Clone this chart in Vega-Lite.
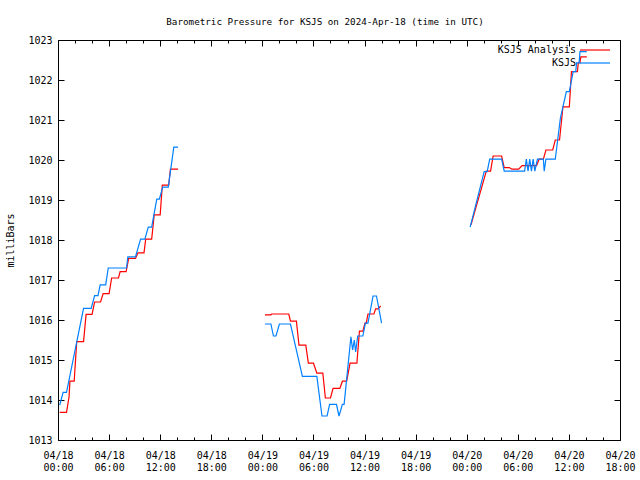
{
  "$schema": "https://vega.github.io/schema/vega-lite/v6.json",
  "width": 562,
  "height": 400,
  "autosize": "none",
  "padding": {"left": 58, "top": 40, "right": 20, "bottom": 40},
  "background": "white",
  "config": {
    "view": {"stroke": "black", "strokeWidth": 1},
    "font": "DejaVu Sans Mono"
  },
  "title": {
    "text": "Barometric Pressure for KSJS on 2024-Apr-18 (time in UTC)",
    "font": "DejaVu Sans Mono",
    "fontSize": 9.25,
    "fontWeight": "normal",
    "anchor": "middle",
    "dx": -14,
    "offset": 8,
    "color": "black"
  },
  "data": {
    "values": [
      {"t": 0.2, "p": 1013.69, "series": "KSJS Analysis", "seg": 1},
      {"t": 1.0, "p": 1013.69, "series": "KSJS Analysis", "seg": 1},
      {"t": 1.3, "p": 1014.08, "series": "KSJS Analysis", "seg": 1},
      {"t": 1.4, "p": 1014.47, "series": "KSJS Analysis", "seg": 1},
      {"t": 1.9, "p": 1014.47, "series": "KSJS Analysis", "seg": 1},
      {"t": 2.2, "p": 1015.46, "series": "KSJS Analysis", "seg": 1},
      {"t": 3.0, "p": 1015.46, "series": "KSJS Analysis", "seg": 1},
      {"t": 3.3, "p": 1016.14, "series": "KSJS Analysis", "seg": 1},
      {"t": 4.0, "p": 1016.14, "series": "KSJS Analysis", "seg": 1},
      {"t": 4.3, "p": 1016.45, "series": "KSJS Analysis", "seg": 1},
      {"t": 5.0, "p": 1016.45, "series": "KSJS Analysis", "seg": 1},
      {"t": 5.3, "p": 1016.66, "series": "KSJS Analysis", "seg": 1},
      {"t": 6.0, "p": 1016.66, "series": "KSJS Analysis", "seg": 1},
      {"t": 6.3, "p": 1017.05, "series": "KSJS Analysis", "seg": 1},
      {"t": 7.1, "p": 1017.05, "series": "KSJS Analysis", "seg": 1},
      {"t": 7.3, "p": 1017.21, "series": "KSJS Analysis", "seg": 1},
      {"t": 8.0, "p": 1017.21, "series": "KSJS Analysis", "seg": 1},
      {"t": 8.3, "p": 1017.54, "series": "KSJS Analysis", "seg": 1},
      {"t": 9.1, "p": 1017.54, "series": "KSJS Analysis", "seg": 1},
      {"t": 9.4, "p": 1017.68, "series": "KSJS Analysis", "seg": 1},
      {"t": 10.1, "p": 1017.68, "series": "KSJS Analysis", "seg": 1},
      {"t": 10.3, "p": 1018.02, "series": "KSJS Analysis", "seg": 1},
      {"t": 11.0, "p": 1018.02, "series": "KSJS Analysis", "seg": 1},
      {"t": 11.3, "p": 1018.63, "series": "KSJS Analysis", "seg": 1},
      {"t": 12.0, "p": 1018.63, "series": "KSJS Analysis", "seg": 1},
      {"t": 12.25, "p": 1019.37, "series": "KSJS Analysis", "seg": 1},
      {"t": 13.0, "p": 1019.37, "series": "KSJS Analysis", "seg": 1},
      {"t": 13.2, "p": 1019.77, "series": "KSJS Analysis", "seg": 1},
      {"t": 14.1, "p": 1019.77, "series": "KSJS Analysis", "seg": 1},

      {"t": 24.3, "p": 1016.13, "series": "KSJS Analysis", "seg": 2},
      {"t": 25.0, "p": 1016.13, "series": "KSJS Analysis", "seg": 2},
      {"t": 25.1, "p": 1016.15, "series": "KSJS Analysis", "seg": 2},
      {"t": 27.1, "p": 1016.15, "series": "KSJS Analysis", "seg": 2},
      {"t": 27.3, "p": 1015.97, "series": "KSJS Analysis", "seg": 2},
      {"t": 28.0, "p": 1015.97, "series": "KSJS Analysis", "seg": 2},
      {"t": 28.3, "p": 1015.37, "series": "KSJS Analysis", "seg": 2},
      {"t": 29.1, "p": 1015.37, "series": "KSJS Analysis", "seg": 2},
      {"t": 29.4, "p": 1014.92, "series": "KSJS Analysis", "seg": 2},
      {"t": 30.0, "p": 1014.92, "series": "KSJS Analysis", "seg": 2},
      {"t": 30.4, "p": 1014.67, "series": "KSJS Analysis", "seg": 2},
      {"t": 31.1, "p": 1014.67, "series": "KSJS Analysis", "seg": 2},
      {"t": 31.4, "p": 1014.05, "series": "KSJS Analysis", "seg": 2},
      {"t": 32.0, "p": 1014.05, "series": "KSJS Analysis", "seg": 2},
      {"t": 32.3, "p": 1014.29, "series": "KSJS Analysis", "seg": 2},
      {"t": 33.1, "p": 1014.29, "series": "KSJS Analysis", "seg": 2},
      {"t": 33.4, "p": 1014.47, "series": "KSJS Analysis", "seg": 2},
      {"t": 33.9, "p": 1014.47, "series": "KSJS Analysis", "seg": 2},
      {"t": 34.3, "p": 1014.92, "series": "KSJS Analysis", "seg": 2},
      {"t": 35.1, "p": 1014.92, "series": "KSJS Analysis", "seg": 2},
      {"t": 35.4, "p": 1015.72, "series": "KSJS Analysis", "seg": 2},
      {"t": 35.8, "p": 1015.72, "series": "KSJS Analysis", "seg": 2},
      {"t": 36.05, "p": 1015.92, "series": "KSJS Analysis", "seg": 2},
      {"t": 36.2, "p": 1015.92, "series": "KSJS Analysis", "seg": 2},
      {"t": 36.4, "p": 1016.15, "series": "KSJS Analysis", "seg": 2},
      {"t": 37.1, "p": 1016.15, "series": "KSJS Analysis", "seg": 2},
      {"t": 37.3, "p": 1016.28, "series": "KSJS Analysis", "seg": 2},
      {"t": 37.6, "p": 1016.28, "series": "KSJS Analysis", "seg": 2},
      {"t": 37.9, "p": 1016.35, "series": "KSJS Analysis", "seg": 2},

      {"t": 48.5, "p": 1018.38, "series": "KSJS Analysis", "seg": 3},
      {"t": 50.3, "p": 1019.72, "series": "KSJS Analysis", "seg": 3},
      {"t": 50.8, "p": 1019.72, "series": "KSJS Analysis", "seg": 3},
      {"t": 51.1, "p": 1020.1, "series": "KSJS Analysis", "seg": 3},
      {"t": 52.1, "p": 1020.1, "series": "KSJS Analysis", "seg": 3},
      {"t": 52.4, "p": 1019.81, "series": "KSJS Analysis", "seg": 3},
      {"t": 53.0, "p": 1019.81, "series": "KSJS Analysis", "seg": 3},
      {"t": 53.3, "p": 1019.77, "series": "KSJS Analysis", "seg": 3},
      {"t": 54.1, "p": 1019.77, "series": "KSJS Analysis", "seg": 3},
      {"t": 54.5, "p": 1019.86, "series": "KSJS Analysis", "seg": 3},
      {"t": 56.2, "p": 1019.86, "series": "KSJS Analysis", "seg": 3},
      {"t": 56.5, "p": 1020.02, "series": "KSJS Analysis", "seg": 3},
      {"t": 57.0, "p": 1020.02, "series": "KSJS Analysis", "seg": 3},
      {"t": 57.3, "p": 1020.25, "series": "KSJS Analysis", "seg": 3},
      {"t": 58.1, "p": 1020.25, "series": "KSJS Analysis", "seg": 3},
      {"t": 58.4, "p": 1020.5, "series": "KSJS Analysis", "seg": 3},
      {"t": 58.9, "p": 1020.5, "series": "KSJS Analysis", "seg": 3},
      {"t": 59.3, "p": 1021.33, "series": "KSJS Analysis", "seg": 3},
      {"t": 60.05, "p": 1021.33, "series": "KSJS Analysis", "seg": 3},
      {"t": 60.3, "p": 1022.21, "series": "KSJS Analysis", "seg": 3},
      {"t": 61.0, "p": 1022.21, "series": "KSJS Analysis", "seg": 3},
      {"t": 61.1, "p": 1022.43, "series": "KSJS Analysis", "seg": 3},
      {"t": 61.3, "p": 1022.43, "series": "KSJS Analysis", "seg": 3},
      {"t": 61.4, "p": 1022.58, "series": "KSJS Analysis", "seg": 3},
      {"t": 62.1, "p": 1022.58, "series": "KSJS Analysis", "seg": 3},

      {"t": 0.2, "p": 1013.87, "series": "KSJS", "seg": 1},
      {"t": 0.6, "p": 1014.19, "series": "KSJS", "seg": 1},
      {"t": 1.0, "p": 1014.19, "series": "KSJS", "seg": 1},
      {"t": 3.0, "p": 1016.29, "series": "KSJS", "seg": 1},
      {"t": 3.9, "p": 1016.29, "series": "KSJS", "seg": 1},
      {"t": 4.3, "p": 1016.61, "series": "KSJS", "seg": 1},
      {"t": 4.7, "p": 1016.61, "series": "KSJS", "seg": 1},
      {"t": 4.95, "p": 1016.88, "series": "KSJS", "seg": 1},
      {"t": 5.6, "p": 1016.88, "series": "KSJS", "seg": 1},
      {"t": 5.9, "p": 1017.3, "series": "KSJS", "seg": 1},
      {"t": 8.05, "p": 1017.3, "series": "KSJS", "seg": 1},
      {"t": 8.2, "p": 1017.58, "series": "KSJS", "seg": 1},
      {"t": 9.1, "p": 1017.58, "series": "KSJS", "seg": 1},
      {"t": 9.7, "p": 1018.02, "series": "KSJS", "seg": 1},
      {"t": 10.2, "p": 1018.02, "series": "KSJS", "seg": 1},
      {"t": 10.6, "p": 1018.32, "series": "KSJS", "seg": 1},
      {"t": 11.0, "p": 1018.32, "series": "KSJS", "seg": 1},
      {"t": 11.6, "p": 1019.02, "series": "KSJS", "seg": 1},
      {"t": 11.9, "p": 1019.02, "series": "KSJS", "seg": 1},
      {"t": 12.3, "p": 1019.32, "series": "KSJS", "seg": 1},
      {"t": 12.95, "p": 1019.32, "series": "KSJS", "seg": 1},
      {"t": 13.6, "p": 1020.32, "series": "KSJS", "seg": 1},
      {"t": 14.1, "p": 1020.32, "series": "KSJS", "seg": 1},

      {"t": 24.3, "p": 1015.9, "series": "KSJS", "seg": 2},
      {"t": 25.0, "p": 1015.9, "series": "KSJS", "seg": 2},
      {"t": 25.3, "p": 1015.6, "series": "KSJS", "seg": 2},
      {"t": 25.6, "p": 1015.6, "series": "KSJS", "seg": 2},
      {"t": 26.0, "p": 1015.9, "series": "KSJS", "seg": 2},
      {"t": 27.3, "p": 1015.9, "series": "KSJS", "seg": 2},
      {"t": 28.7, "p": 1014.59, "series": "KSJS", "seg": 2},
      {"t": 30.4, "p": 1014.59, "series": "KSJS", "seg": 2},
      {"t": 31.0, "p": 1013.6, "series": "KSJS", "seg": 2},
      {"t": 31.6, "p": 1013.6, "series": "KSJS", "seg": 2},
      {"t": 31.9, "p": 1013.89, "series": "KSJS", "seg": 2},
      {"t": 32.7, "p": 1013.89, "series": "KSJS", "seg": 2},
      {"t": 33.0, "p": 1013.6, "series": "KSJS", "seg": 2},
      {"t": 33.4, "p": 1013.89, "series": "KSJS", "seg": 2},
      {"t": 33.6, "p": 1013.89, "series": "KSJS", "seg": 2},
      {"t": 34.4, "p": 1015.58, "series": "KSJS", "seg": 2},
      {"t": 34.6, "p": 1015.25, "series": "KSJS", "seg": 2},
      {"t": 34.8, "p": 1015.5, "series": "KSJS", "seg": 2},
      {"t": 34.95, "p": 1015.2, "series": "KSJS", "seg": 2},
      {"t": 35.2, "p": 1015.6, "series": "KSJS", "seg": 2},
      {"t": 35.8, "p": 1015.6, "series": "KSJS", "seg": 2},
      {"t": 36.1, "p": 1015.92, "series": "KSJS", "seg": 2},
      {"t": 36.4, "p": 1015.92, "series": "KSJS", "seg": 2},
      {"t": 37.0, "p": 1016.6, "series": "KSJS", "seg": 2},
      {"t": 37.4, "p": 1016.6, "series": "KSJS", "seg": 2},
      {"t": 38.0, "p": 1015.92, "series": "KSJS", "seg": 2},

      {"t": 48.4, "p": 1018.32, "series": "KSJS", "seg": 3},
      {"t": 50.05, "p": 1019.71, "series": "KSJS", "seg": 3},
      {"t": 50.4, "p": 1019.71, "series": "KSJS", "seg": 3},
      {"t": 50.7, "p": 1020.02, "series": "KSJS", "seg": 3},
      {"t": 52.1, "p": 1020.02, "series": "KSJS", "seg": 3},
      {"t": 52.4, "p": 1019.72, "series": "KSJS", "seg": 3},
      {"t": 54.8, "p": 1019.72, "series": "KSJS", "seg": 3},
      {"t": 55.0, "p": 1020.02, "series": "KSJS", "seg": 3},
      {"t": 55.2, "p": 1019.72, "series": "KSJS", "seg": 3},
      {"t": 55.4, "p": 1020.02, "series": "KSJS", "seg": 3},
      {"t": 55.6, "p": 1019.72, "series": "KSJS", "seg": 3},
      {"t": 55.8, "p": 1020.02, "series": "KSJS", "seg": 3},
      {"t": 56.0, "p": 1019.72, "series": "KSJS", "seg": 3},
      {"t": 56.3, "p": 1020.02, "series": "KSJS", "seg": 3},
      {"t": 57.0, "p": 1020.02, "series": "KSJS", "seg": 3},
      {"t": 57.1, "p": 1019.72, "series": "KSJS", "seg": 3},
      {"t": 57.3, "p": 1020.02, "series": "KSJS", "seg": 3},
      {"t": 58.4, "p": 1020.02, "series": "KSJS", "seg": 3},
      {"t": 59.0, "p": 1021.05, "series": "KSJS", "seg": 3},
      {"t": 59.7, "p": 1021.71, "series": "KSJS", "seg": 3},
      {"t": 60.05, "p": 1021.71, "series": "KSJS", "seg": 3},
      {"t": 60.5, "p": 1022.21, "series": "KSJS", "seg": 3},
      {"t": 60.8, "p": 1022.21, "series": "KSJS", "seg": 3},
      {"t": 60.9, "p": 1022.43, "series": "KSJS", "seg": 3},
      {"t": 61.2, "p": 1022.43, "series": "KSJS", "seg": 3},
      {"t": 61.3, "p": 1022.71, "series": "KSJS", "seg": 3},
      {"t": 62.1, "p": 1022.71, "series": "KSJS", "seg": 3}
    ]
  },
  "layer": [
    {
      "mark": {"type": "line", "strokeWidth": 1.2, "interpolate": "linear"},
      "encoding": {
        "x": {
          "field": "t",
          "type": "quantitative",
          "scale": {"domain": [0, 66], "nice": false, "zero": false},
          "axis": {
            "orient": "bottom",
            "title": null,
            "grid": false,
            "domain": false,
            "values": [0, 2, 4, 6, 8, 10, 12, 14, 16, 18, 20, 22, 24, 26, 28, 30, 32, 34, 36, 38, 40, 42, 44, 46, 48, 50, 52, 54, 56, 58, 60, 62, 64, 66],
            "tickSize": {"condition": {"test": "datum.value % 6 === 0", "value": -6}, "value": -3},
            "tickColor": "black",
            "labelExpr": "datum.value % 6 === 0 ? ['04/' + (18 + floor(datum.value / 24)), (datum.value % 24 < 10 ? '0' : '') + (datum.value % 24) + ':00'] : ''",
            "labelFont": "DejaVu Sans Mono",
            "labelFontSize": 10,
            "labelColor": "black",
            "labelLineHeight": 12,
            "labelPadding": 16,
            "labelOverlap": false,
            "labelFlush": false
          }
        },
        "y": {
          "field": "p",
          "type": "quantitative",
          "scale": {"domain": [1013, 1023], "nice": false, "zero": false},
          "axis": {
            "orient": "left",
            "title": "milliBars",
            "titleFont": "DejaVu Sans Mono",
            "titleFontSize": 10,
            "titleFontWeight": "normal",
            "titleColor": "black",
            "titlePadding": 12,
            "grid": false,
            "domain": false,
            "format": "d",
            "values": [1013, 1014, 1015, 1016, 1017, 1018, 1019, 1020, 1021, 1022, 1023],
            "tickSize": -6,
            "tickColor": "black",
            "labelFont": "DejaVu Sans Mono",
            "labelFontSize": 10,
            "labelColor": "black",
            "labelPadding": 12,
            "labelOverlap": false,
            "labelFlush": false
          }
        },
        "color": {
          "field": "series",
          "type": "nominal",
          "sort": ["KSJS Analysis", "KSJS"],
          "scale": {"domain": ["KSJS Analysis", "KSJS"], "range": ["#ff0000", "#0080ff"]},
          "legend": {
            "orient": "none",
            "legendX": 531,
            "legendY": 4,
            "title": null,
            "symbolType": "M-3,0H3",
            "symbolSize": 100,
            "symbolStrokeWidth": 1.2,
            "labelAlign": "right",
            "labelOffset": -25,
            "labelFont": "DejaVu Sans Mono",
            "labelFontSize": 10,
            "labelColor": "black",
            "padding": 0,
            "rowPadding": 2
          }
        },
        "detail": {"field": "seg", "type": "nominal"}
      }
    },
    {
      "mark": {"type": "point", "opacity": 0},
      "encoding": {
        "x": {
          "field": "t",
          "type": "quantitative",
          "axis": {
            "orient": "top",
            "title": null,
            "grid": false,
            "domain": false,
            "labels": false,
            "values": [0, 2, 4, 6, 8, 10, 12, 14, 16, 18, 20, 22, 24, 26, 28, 30, 32, 34, 36, 38, 40, 42, 44, 46, 48, 50, 52, 54, 56, 58, 60, 62, 64, 66],
            "tickSize": {"condition": {"test": "datum.value % 6 === 0", "value": -6}, "value": -3},
            "tickColor": "black"
          }
        },
        "y": {
          "field": "p",
          "type": "quantitative",
          "axis": {
            "orient": "right",
            "title": null,
            "grid": false,
            "domain": false,
            "labels": false,
            "values": [1013, 1014, 1015, 1016, 1017, 1018, 1019, 1020, 1021, 1022, 1023],
            "tickSize": -6,
            "tickColor": "black"
          }
        }
      }
    }
  ],
  "resolve": {"axis": {"x": "independent", "y": "independent"}}
}
